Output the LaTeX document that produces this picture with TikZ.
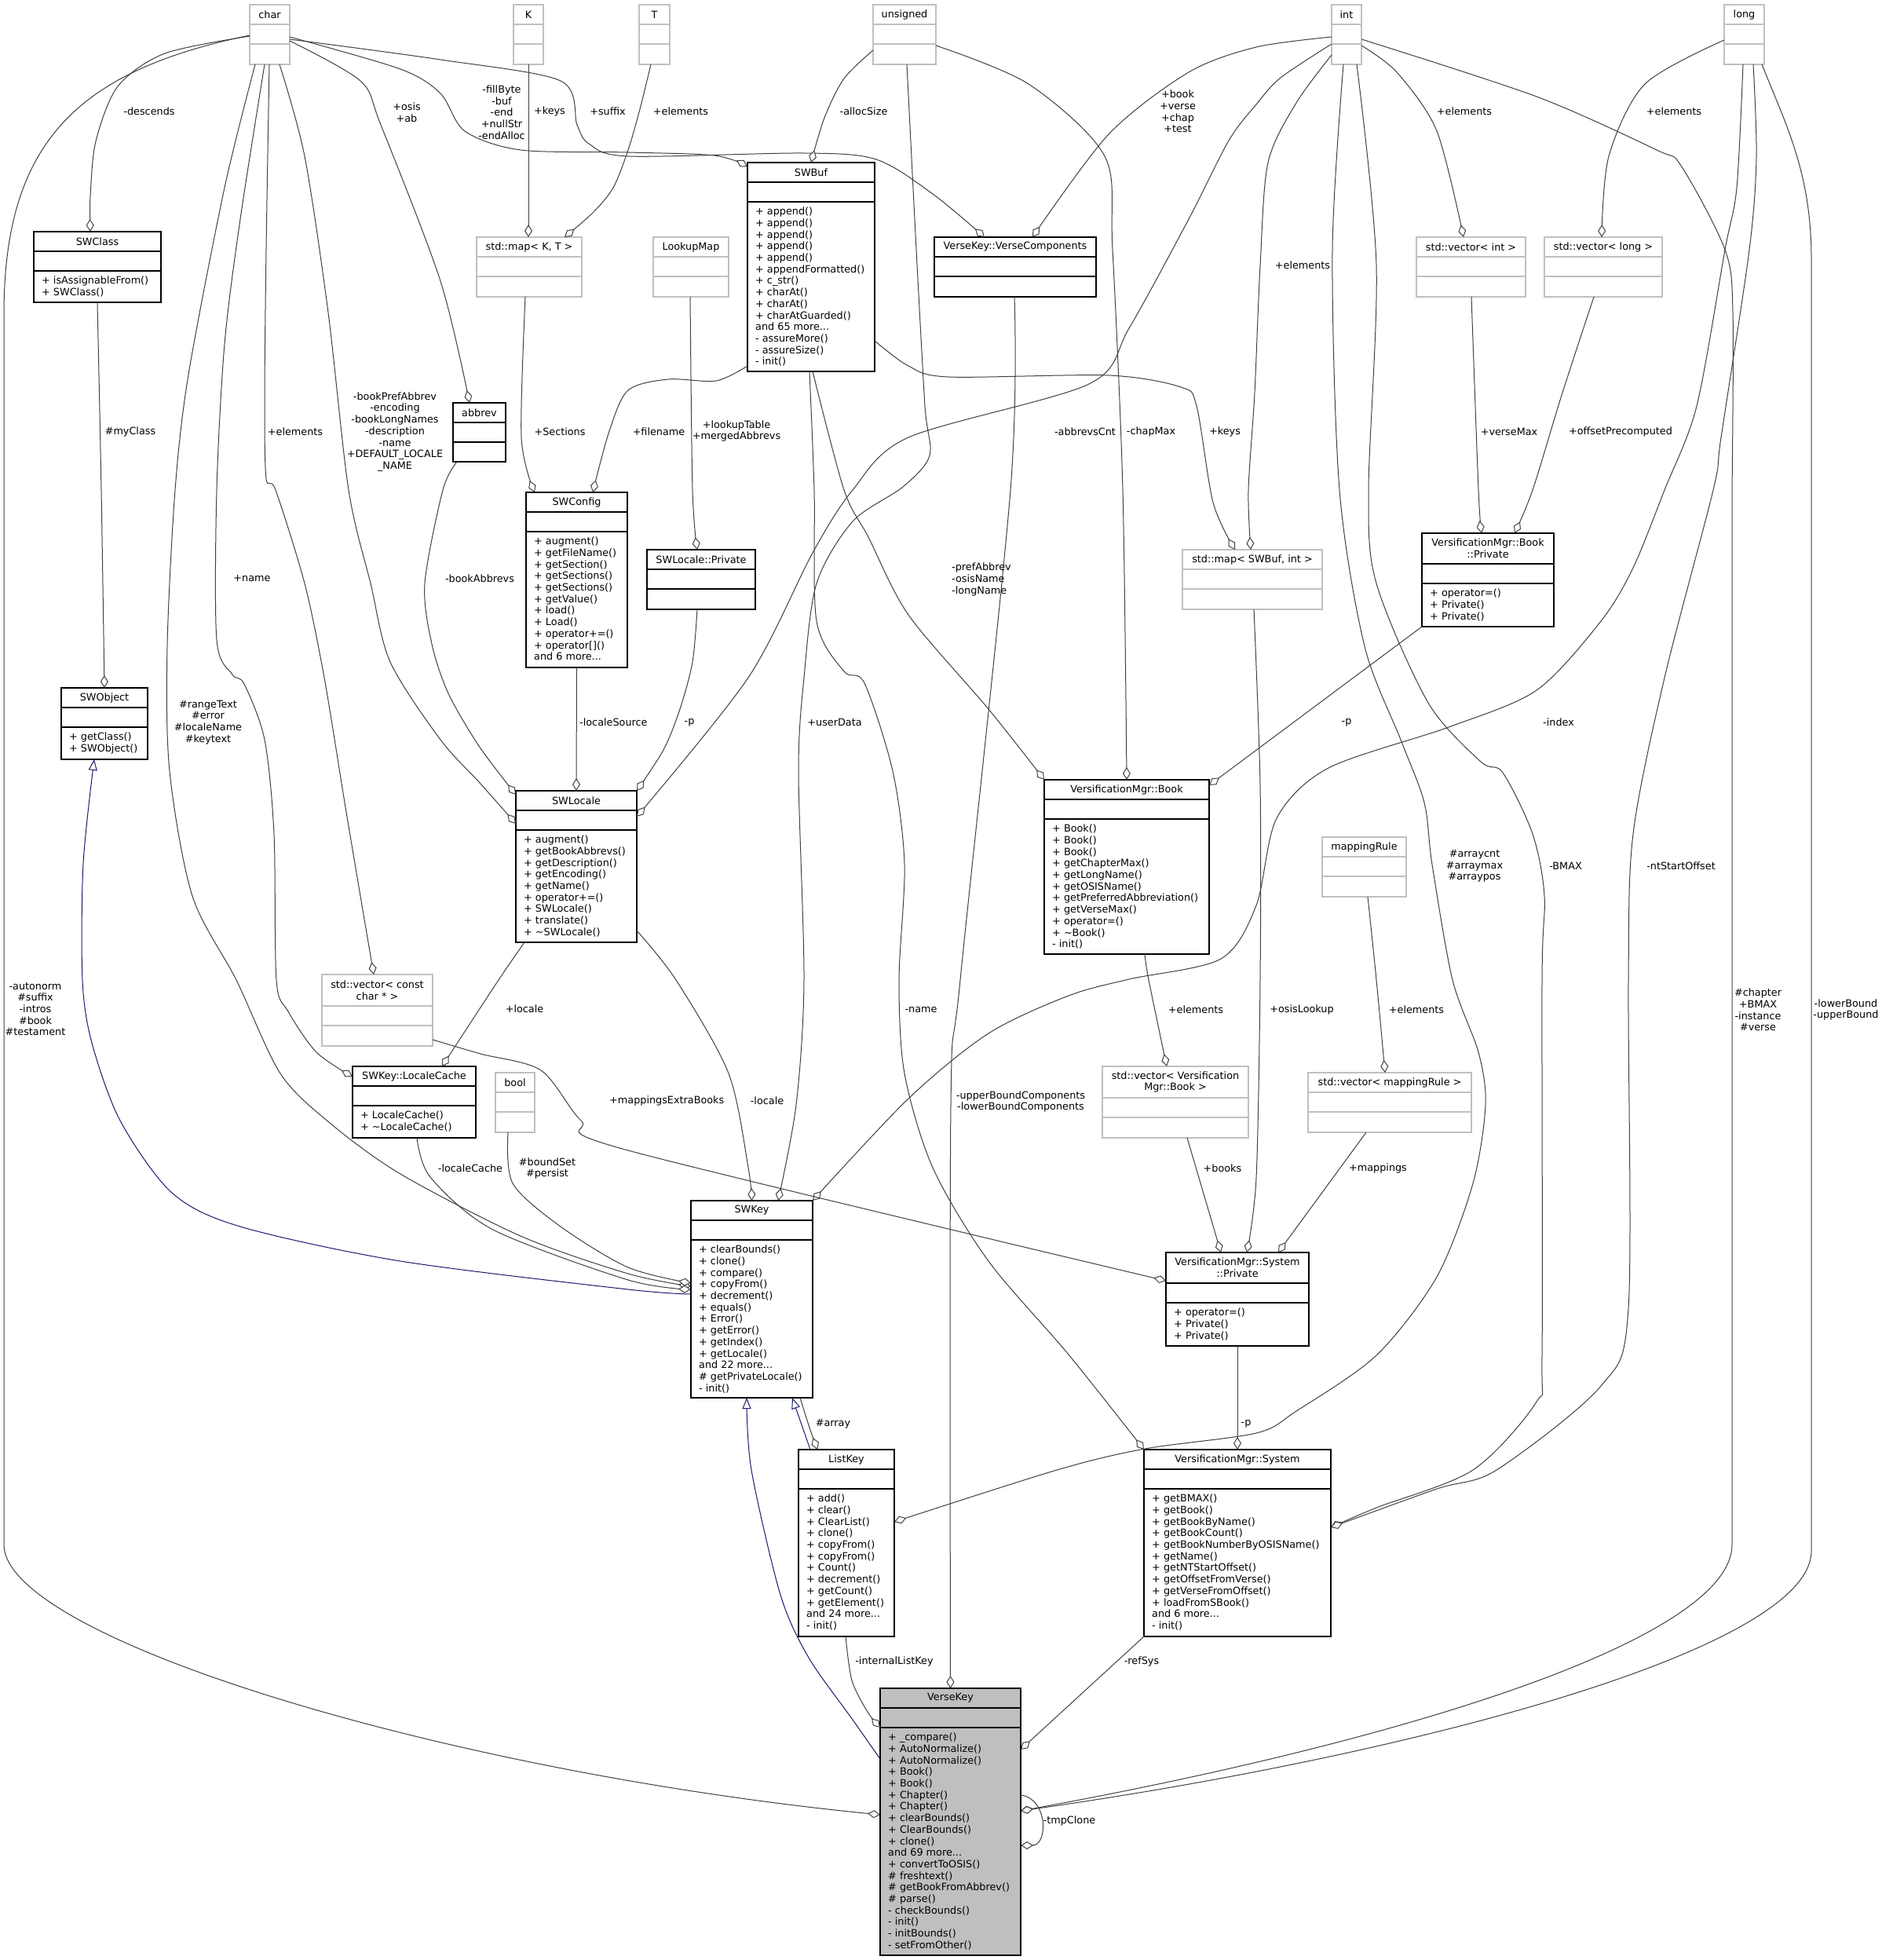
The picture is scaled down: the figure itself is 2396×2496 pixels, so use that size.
\documentclass[tikz,border=0pt]{standalone}
\usepackage{fontspec}
\setmainfont{DejaVu Sans}
\usetikzlibrary{arrows.meta}
\definecolor{edgec}{HTML}{404040}
\definecolor{graybox}{HTML}{C0C0C0}
\definecolor{vkfill}{HTML}{BFBFBF}
\definecolor{inhc}{HTML}{191970}
\newcommand\dfont{\fontsize{12.8}{14.7}\selectfont}
\tikzset{
  cls/.style={rectangle, draw=black, line width=1.4pt, fill=white, inner sep=0pt, outer sep=0pt},
  ext/.style={rectangle, draw=graybox, line width=1.4pt, fill=white, inner sep=0pt, outer sep=0pt},
  vk/.style={rectangle, draw=black, line width=1.4pt, fill=vkfill, inner sep=0pt, outer sep=0pt},
  cls rule/.style={draw=black, line width=1.4pt},
  ext rule/.style={draw=graybox, line width=1.4pt},
  vk rule/.style={draw=black, line width=1.4pt},
  htext/.style={font=\dfont, inner sep=0pt, align=center},
  mtext/.style={font=\dfont, inner sep=0pt, align=left, anchor=north west},
  lbl/.style={font=\dfont, inner sep=0pt, align=center},
  agg/.style={draw=edgec, line width=1pt, line join=round, -{Diamond[length=16pt, width=10pt, fill=white]}},
  inhe/.style={draw=inhc, line width=1pt, line join=round, -{Triangle[length=14pt, width=11pt, fill=white]}},
}
\newcommand\umlbox[9][cls]{%
  \node[#1, minimum width={#5-#3}, minimum height={#6-#4}] (#2) at ({(#3+#5)/2},{(#4+#6)/2}) {};
  \draw[#1 rule] ({#3},{#4+#7}) -- ({#5},{#4+#7}) ({#3},{#4+#7+25}) -- ({#5},{#4+#7+25});
  \node[htext] (#2-h) at ({(#3+#5)/2},{#4+#7/2}) {#8};
  \node[mtext] (#2-m) at ({#3+10},{#4+#7+31.5}) {\rule{0pt}{10pt}#9};
}
\begin{document}
\begin{tikzpicture}[x=1pt,y=-1pt]
\fill[white] (0,0) rectangle (2396,2496);
\useasboundingbox (0,0) rectangle (2396,2496);

% ---------- boxes ----------
\umlbox[ext]{char}{318}{6}{369}{82}{25}{char}{}
\umlbox[ext]{K}{654}{6}{692}{82}{25}{K}{}
\umlbox[ext]{T}{814}{6}{853}{82}{25}{T}{}
\umlbox[ext]{unsigned}{1112}{6}{1192}{82}{25}{unsigned}{}
\umlbox[ext]{int}{1696}{6}{1734}{82}{25}{int}{}
\umlbox[ext]{long}{2196}{6}{2247}{82}{25}{long}{}
\umlbox[ext]{mapKT}{607}{302}{741}{378}{25}{std::map< K, T >}{}
\umlbox[ext]{lookupmap}{832}{302}{928}{378}{25}{LookupMap}{}
\umlbox[ext]{vecint}{1804}{302}{1943}{378}{25}{std::vector< int >}{}
\umlbox[ext]{veclong}{1967}{302}{2117}{378}{25}{std::vector< long >}{}
\umlbox[ext]{mapSB}{1506}{700}{1684}{776}{25}{std::map< SWBuf, int >}{}
\umlbox[ext]{mappingrule}{1684}{1066}{1791}{1142}{25}{mappingRule}{}
\umlbox[ext]{vcc}{410}{1241}{551}{1332}{40}{std::vector< const\\char * >}{}
\umlbox[ext]{bool}{631}{1366}{681}{1442}{25}{bool}{}
\umlbox[ext]{vecbook}{1404}{1358}{1590}{1449}{40}{std::vector< Versification\\Mgr::Book >}{}
\umlbox[ext]{vecmr}{1666}{1366}{1874}{1442}{25}{std::vector< mappingRule >}{}

\umlbox{SWClass}{43}{295}{205}{385}{25}{SWClass}{+ isAssignableFrom()\\+ SWClass()}
\umlbox{abbrev}{577}{513}{644}{588}{25}{abbrev}{}
\umlbox{SWBuf}{952}{207}{1114}{473}{25}{SWBuf}{+ append()\\+ append()\\+ append()\\+ append()\\+ append()\\+ appendFormatted()\\+ c\_str()\\+ charAt()\\+ charAt()\\+ charAtGuarded()\\and 65 more...\\- assureMore()\\- assureSize()\\- init()}
\umlbox{vc}{1190}{302}{1396}{378}{25}{VerseKey::VerseComponents}{}
\umlbox{SWConfig}{670}{627}{799}{850}{25}{SWConfig}{+ augment()\\+ getFileName()\\+ getSection()\\+ getSections()\\+ getSections()\\+ getValue()\\+ load()\\+ Load()\\+ operator+=()\\+ operator[]()\\and 6 more...}
\umlbox{slp}{824}{700}{962}{776}{25}{SWLocale::Private}{}
\umlbox{bp}{1811}{679}{1979}{798}{39}{VersificationMgr::Book\\::Private}{+ operator=()\\+ Private()\\+ Private()}
\umlbox{SWObject}{78}{876}{188}{967}{25}{SWObject}{+ getClass()\\+ SWObject()}
\umlbox{SWLocale}{657}{1007}{811}{1200}{25}{SWLocale}{+ augment()\\+ getBookAbbrevs()\\+ getDescription()\\+ getEncoding()\\+ getName()\\+ operator+=()\\+ SWLocale()\\+ translate()\\+ \textasciitilde SWLocale()}
\umlbox{Book}{1330}{993}{1540}{1215}{25}{VersificationMgr::Book}{+ Book()\\+ Book()\\+ Book()\\+ getChapterMax()\\+ getLongName()\\+ getOSISName()\\+ getPreferredAbbreviation()\\+ getVerseMax()\\+ operator=()\\+ \textasciitilde Book()\\- init()}
\umlbox{lc}{449}{1358}{606}{1449}{25}{SWKey::LocaleCache}{+ LocaleCache()\\+ \textasciitilde LocaleCache()}
\umlbox{SWKey}{880}{1529}{1035}{1780}{25}{SWKey}{+ clearBounds()\\+ clone()\\+ compare()\\+ copyFrom()\\+ decrement()\\+ equals()\\+ Error()\\+ getError()\\+ getIndex()\\+ getLocale()\\and 22 more...\\\# getPrivateLocale()\\- init()}
\umlbox{sp}{1485}{1595}{1667}{1714}{39}{VersificationMgr::System\\::Private}{+ operator=()\\+ Private()\\+ Private()}
\umlbox{ListKey}{1017}{1846}{1139}{2084}{25}{ListKey}{+ add()\\+ clear()\\+ ClearList()\\+ clone()\\+ copyFrom()\\+ copyFrom()\\+ Count()\\+ decrement()\\+ getCount()\\+ getElement()\\and 24 more...\\- init()}
\umlbox{System}{1457}{1846}{1695}{2084}{25}{VersificationMgr::System}{+ getBMAX()\\+ getBook()\\+ getBookByName()\\+ getBookCount()\\+ getBookNumberByOSISName()\\+ getName()\\+ getNTStartOffset()\\+ getOffsetFromVerse()\\+ getVerseFromOffset()\\+ loadFromSBook()\\and 6 more...\\- init()}
\umlbox[vk]{VerseKey}{1121}{2150}{1300}{2490}{25}{VerseKey}{+ \_compare()\\+ AutoNormalize()\\+ AutoNormalize()\\+ Book()\\+ Book()\\+ Chapter()\\+ Chapter()\\+ clearBounds()\\+ ClearBounds()\\+ clone()\\and 69 more...\\+ convertToOSIS()\\\# freshtext()\\\# getBookFromAbbrev()\\\# parse()\\- checkBounds()\\- init()\\- initBounds()\\- setFromOther()}

% ---------- edges ----------
% char
\draw[agg] plot[smooth] coordinates {([shift={(0,40)}]char.north west) (210,68) (150,110) (122,180) (115,250) ([shift={(-9,0)}]SWClass.north)};
\draw[agg] plot[smooth] coordinates {([shift={(-18.5,0)}]char.south) (286,239) (240,477) (223,624) (213,823) (216,982) (245,1141) (301,1248) (357,1367) (420,1430) (510,1495) (663,1574) (800,1622) ([shift={(0,-16.5)}]SWKey.west)};
\draw[agg] plot[smooth] coordinates {([shift={(-6.5,0)}]char.south) (306,279) (286,438) (276,624) (276,815) (296,859) (311,871) (337,942) (349,1062) (352,1248) (367,1288) (403,1340) ([shift={(0,13)}]lc.north west)};
\draw[agg] plot[smooth] coordinates {([shift={(-0.5,0)}]char.south) (339,318) (337,509) (339,609) (351,624) (388,743) (413,863) (439,1022) (459,1141) ([shift={(-4.5,0)}]vcc.north)};
\draw[agg] plot[smooth] coordinates {([shift={(12.5,0)}]char.south) (388,199) (418,398) (444,624) (472,743) (497,843) (561,942) (612,998) ([shift={(0,42)}]SWLocale.north west)};
\draw[agg] plot[smooth] coordinates {([shift={(0,46)}]char.north east) (459,103) (485,159) (561,358) ([shift={(-12.5,0)}]abbrev.north)};
\draw[agg] plot[smooth] coordinates {([shift={(0,41)}]char.north east) (510,88) (561,119) (592,167) (663,191) (800,194) (910,198) ([shift={(0,5)}]SWBuf.north west)};
\draw[agg] plot[smooth] coordinates {([shift={(0,44)}]char.north east) (561,76) (714,103) (735,159) (750,183) (800,199) (1024,195) (1116,203) (1188,247) ([shift={(-39,0)}]vc.north)};
\draw[agg] ([shift={(0,39)}]char.north west) .. controls (100,90) and (5,180) .. (5,400) -- (5,1967) .. controls (5,2085) and (560,2255) .. ([shift={(0,161)}]VerseKey.north west);
% K, T
\draw[agg] (K.south) -- ([shift={(-1,0)}]mapKT.north);
\draw[agg] plot[smooth] coordinates {([shift={(-4.5,0)}]T.south) (815,139) (800,191) (781,239) (755,271) ([shift={(45,0)}]mapKT.north)};
% unsigned
\draw[agg] plot[smooth] coordinates {([shift={(0,58)}]unsigned.north west) (1075,100) (1050,150) (SWBuf.north)};
\draw[agg] plot[smooth] coordinates {([shift={(0,52)}]unsigned.north east) (1310,107) (1407,199) (1417,318) (1430,624) (Book.north)};
\draw[agg] plot[smooth] coordinates {([shift={(3,0)}]unsigned.south) (1167,318) (1178,517) (1184,580) (1150,620) (1086,664) (1040,743) (1024,863) (1017,982) (1024,1248) (1014,1407) ([shift={(33.5,0)}]SWKey.north)};
% int
\draw[agg] plot[smooth] coordinates {([shift={(0,41)}]int.north west) (1600,60) (1514,92) (1412,171) ([shift={(22,0)}]vc.north)};
\draw[agg] plot[smooth] coordinates {([shift={(0,50)}]int.north west) (1631,99) (1600,133) (1565,179) (1514,279) (1438,418) (1387,489) (1157,557) (1086,624) (1035,704) (953,863) ([shift={(0,33)}]SWLocale.north east)};
\draw[agg] plot[smooth] coordinates {([shift={(0,64)}]int.north west) (1651,131) (1615,207) (1605,338) (1598,500) (1590,624) ([shift={(-2,0)}]mapSB.north)};
\draw[agg] plot[smooth] coordinates {([shift={(0,52)}]int.north east) (1779,92) (1830,167) ([shift={(-9.5,0)}]vecint.north)};
\draw[agg] plot[smooth] coordinates {([shift={(-4,0)}]int.south) (1697,318) (1706,624) (1738,823) (1784,942) (1814,1022) (1824,1101) (1850,1248) (1883,1340) (1892,1407) (1876,1507) (1830,1626) (1753,1726) (1651,1797) (1600,1825) (1458,1845) (1346,1872) ([shift={(0,92)}]ListKey.north east)};
\draw[agg] plot[smooth] coordinates {([shift={(13,0)}]int.south) (1753,338) (1743,624) (1753,743) (1819,895) (1886,970) (1914,984) (1952,1062) (1967,1141) (1964,1248) (1964,1726) (1957,1785) (1876,1872) (1753,1920) ([shift={(0,99)}]System.north east)};
\draw[agg] plot[smooth] coordinates {([shift={(0,44)}]int.north east) (1957,123) (2110,191) (2141,211) (2197,318) (2207,398) (2206,624)} -- (2206,1967) .. controls (2206,2085) and (1800,2215) .. ([shift={(0,156)}]VerseKey.north east);
% long
\draw[agg] plot[smooth] coordinates {([shift={(0,45)}]long.north west) (2095,107) (2049,199) ([shift={(-2,0)}]veclong.north)};
\draw[agg] plot[smooth] coordinates {([shift={(-1.5,0)}]long.south) (2212,239) (2197,318) (2161,517) (2120,624) (2080,723) (2039,791) (1957,879) (1845,926) (1692,978) (1626,1042) (1600,1153) (1555,1221) (1438,1247) (1361,1268) (1259,1316) (1157,1399) (SWKey.north east)};
\draw[agg] plot[smooth] coordinates {([shift={(11.5,0)}]long.south) (2237,200) (2228,318) (2192,557) (2182,624) (2120,863) (2080,1062) (2074,1248) (2074,1666) (2039,1765) (1906,1872) (1830,1896) ([shift={(0,99)}]System.north east)};
\draw[agg] ([shift={(-3,0)}]long.south east) .. controls (2275,160) and (2307,220) .. (2307,330) -- (2307,1975) .. controls (2307,2100) and (1800,2235) .. ([shift={(0,156)}]VerseKey.north east);
% vectors / maps
\draw[agg] plot[smooth] coordinates {([shift={(0.5,0)}]vecint.south) (1883,624) ([shift={(-8,0)}]bp.north)};
\draw[agg] plot[smooth] coordinates {([shift={(-12,0)}]veclong.south) (1990,500) (1952,624) ([shift={(34,0)}]bp.north)};
\draw[agg] (bp.south west) -- ([shift={(0,7)}]Book.north east);
% SWBuf
\draw[agg] plot[smooth] coordinates {([shift={(2,0)}]SWBuf.south) (1075,624) (1106,684) (1157,783) (1259,903) (Book.north west)};
\draw[agg] plot[smooth] coordinates {([shift={(-2,0)}]SWBuf.south) (1037,624) (1040,791) (1075,855) (1101,870) (1137,982) (1152,1101) (1145,1248) (1152,1367) (1188,1487) (1259,1606) (1361,1725) (System.north west)};
\draw[agg] plot[smooth] coordinates {([shift={(0,-39)}]SWBuf.south east) (1157,466) (1208,480) (1412,478) (1504,493) (1524,517) (1545,640) ([shift={(-22,0)}]mapSB.north)};
\draw[agg] plot[smooth] coordinates {([shift={(0,-7)}]SWBuf.south west) (912,485) (851,483) (800,497) (776,549) ([shift={(20.5,0)}]SWConfig.north)};
\draw[agg] plot[smooth] coordinates {([shift={(-5,0)}]mapKT.south) (664,557) ([shift={(-53.5,0)}]SWConfig.north)};
\draw[agg] plot[smooth] coordinates {([shift={(-1,0)}]lookupmap.south) (882,624) ([shift={(-5,0)}]slp.north)};
\draw[agg] (SWConfig.south) -- (SWLocale.north);
\draw[agg] plot[smooth] coordinates {([shift={(-28.5,0)}]abbrev.south) (564,624) (541,743) (550,820) (571,883) (610,950) ([shift={(0,5)}]SWLocale.north west)};
\draw[agg] plot[smooth] coordinates {([shift={(-5,0)}]slp.south) (882,843) (866,903) (845,955) (SWLocale.north east)};
\draw[agg] plot[smooth] coordinates {(SWClass.south) (129,624) (SWObject.north)};
% SWKey side
\draw[inhe] plot[smooth] coordinates {([shift={(0,-6.5)}]SWKey.west) (800,1642) (510,1606) (306,1562) (219,1519) (153,1427) (117,1328) (105,1248) (106,1100) ([shift={(-13,0)}]SWObject.south)};
\draw[agg] plot[smooth] coordinates {([shift={(11,0)}]SWLocale.south west) (635,1248) ([shift={(35.5,0)}]lc.north)};
\draw[agg] plot[smooth] coordinates {([shift={(0,-15)}]SWLocale.south east) (861,1248) (928,1367) (953,1487) (SWKey.north)};
\draw[agg] plot[smooth] coordinates {([shift={(3.5,0)}]lc.south) (548,1499) (628,1566) (800,1630) ([shift={(0,-12.5)}]SWKey.west)};
\draw[agg] plot[smooth] coordinates {([shift={(-9,0)}]bool.south) (653,1507) (714,1562) (800,1614) ([shift={(0,-20.5)}]SWKey.west)};
\draw[agg] plot[smooth] coordinates {([shift={(0,-8)}]vcc.south east) (612,1342) (689,1363) (740,1427) (800,1465) ([shift={(0,36)}]sp.north west)};
\draw[agg] ([shift={(15,0)}]vecbook.south) -- ([shift={(-21,0)}]sp.north);
\draw[agg] plot[smooth] coordinates {([shift={(2,0)}]mapSB.south) (1605,1000) (1605,1248) (1600,1500) ([shift={(12,0)}]sp.north)};
\draw[agg] ([shift={(-30,0)}]vecmr.south) -- ([shift={(52,0)}]sp.north);
\draw[agg] plot[smooth] coordinates {([shift={(4.5,0)}]mappingrule.south) (1753,1248) ([shift={(-6,0)}]vecmr.north)};
\draw[agg] plot[smooth] coordinates {([shift={(23,0)}]Book.south) (1463,1248) ([shift={(-11,0)}]vecbook.north)};
\draw[agg] (sp.south) -- (System.north);
\draw[inhe] ([shift={(-46,0)}]ListKey.north) -- ([shift={(51.5,0)}]SWKey.south);
\draw[agg] plot[smooth] coordinates {([shift={(61.5,0)}]SWKey.south) (1030,1815) ([shift={(-37,0)}]ListKey.north)};
\draw[inhe] plot[smooth] coordinates {([shift={(0,90)}]VerseKey.north west) (1086,2190) (1030,2111) (994,2031) (957,1872) ([shift={(-6.5,0)}]SWKey.south)};
\draw[agg] plot[smooth] coordinates {([shift={(-1,0)}]ListKey.south) (1085,2140) (1105,2180) ([shift={(0,50)}]VerseKey.north west)};
\draw[agg] plot[smooth] coordinates {([shift={(-1,0)}]vc.south) (1287,624) (1223,1248) (1211,1407) (VerseKey.north)};
\draw[agg] (System.south west) -- ([shift={(0,78)}]VerseKey.north east);
\draw[agg] ([shift={(0,136)}]VerseKey.north east) .. controls (1335,2290) and (1335,2350) .. ([shift={(0,200)}]VerseKey.north east);

% ---------- labels ----------
\node[lbl] (l1) at (190,142) {-descends};
\node[lbl] (l2) at (518,143) {+osis\\+ab};
\node[lbl] (l3) at (639,143) {-fillByte\\-buf\\-end\\+nullStr\\-endAlloc};
\node[lbl] (l4) at (700,142) {+keys};
\node[lbl] (l5) at (774,142) {+suffix};
\node[lbl] (l6) at (867,142) {+elements};
\node[lbl] (l7) at (1100,142) {-allocSize};
\node[lbl] (l8) at (1500,142) {+book\\+verse\\+chap\\+test};
\node[lbl] (l9) at (1865,142) {+elements};
\node[lbl] (l10) at (2132,142) {+elements};
\node[lbl] (l11) at (1659,338) {+elements};
\node[lbl] (l12) at (166,550) {\#myClass};
\node[lbl] (l13) at (376,550) {+elements};
\node[lbl] (l14) at (503,550) {-bookPrefAbbrev\\-encoding\\-bookLongNames\\-description\\-name\\+DEFAULT\_LOCALE\\\_NAME};
\node[lbl] (l15) at (713,550) {+Sections};
\node[lbl] (l16) at (839,550) {+filename};
\node[lbl] (l17) at (938,549) {+lookupTable\\+mergedAbbrevs};
\node[lbl] (l18) at (1382,550) {-abbrevsCnt};
\node[lbl] (l19) at (1466,550) {-chapMax};
\node[lbl] (l20) at (1560,550) {+keys};
\node[lbl] (l21) at (1922,550) {+verseMax};
\node[lbl] (l22) at (2064,550) {+offsetPrecomputed};
\node[lbl, anchor=west, align=left] (l23) at (1212,738) {-prefAbbrev\\-osisName\\-longName};
\node[lbl] (l24) at (321,737) {+name};
\node[lbl] (l25) at (611,737) {-bookAbbrevs};
\node[lbl] (l26) at (265,920) {\#rangeText\\\#error\\\#localeName\\\#keytext};
\node[lbl, anchor=west] (l27) at (738,920) {-localeSource};
\node[lbl] (l28) at (878,920) {-p};
\node[lbl] (l29) at (1063,920) {+userData};
\node[lbl] (l30) at (1715,920) {-p};
\node[lbl] (l31) at (1985,920) {-index};
\node[lbl] (l32) at (1878,1103) {\#arraycnt\\\#arraymax\\\#arraypos};
\node[lbl] (l33) at (1994,1103) {-BMAX};
\node[lbl] (l34) at (2141,1103) {-ntStartOffset};
\node[lbl] (l35) at (45,1285) {-autonorm\\\#suffix\\-intros\\\#book\\\#testament};
\node[lbl] (l36) at (668,1285) {+locale};
\node[lbl] (l37) at (1173,1286) {-name};
\node[lbl] (l38) at (1300,1403) {-upperBoundComponents\\-lowerBoundComponents};
\node[lbl] (l39) at (1523,1286) {+elements};
\node[lbl] (l40) at (1658,1286) {+osisLookup};
\node[lbl] (l41) at (1804,1286) {+elements};
\node[lbl] (l42) at (2239,1286) {\#chapter\\+BMAX\\-instance\\\#verse};
\node[lbl] (l43) at (2351,1286) {-lowerBound\\-upperBound};
\node[lbl, anchor=west] (l44) at (776,1402) {+mappingsExtraBooks};
\node[lbl] (l45) at (977,1402) {-locale};
\node[lbl] (l46) at (599,1488) {-localeCache};
\node[lbl] (l47) at (697,1488) {\#boundSet\\\#persist};
\node[lbl] (l48) at (1557,1488) {+books};
\node[lbl] (l49) at (1755,1488) {+mappings};
\node[lbl] (l50) at (1061,1813) {\#array};
\node[lbl] (l51) at (1587,1813) {-p};
\node[lbl] (l52) at (1139,2116) {-internalListKey};
\node[lbl] (l53) at (1454,2116) {-refSys};
\node[lbl] (l54) at (1362,2319) {-tmpClone};
\end{tikzpicture}
\end{document}
